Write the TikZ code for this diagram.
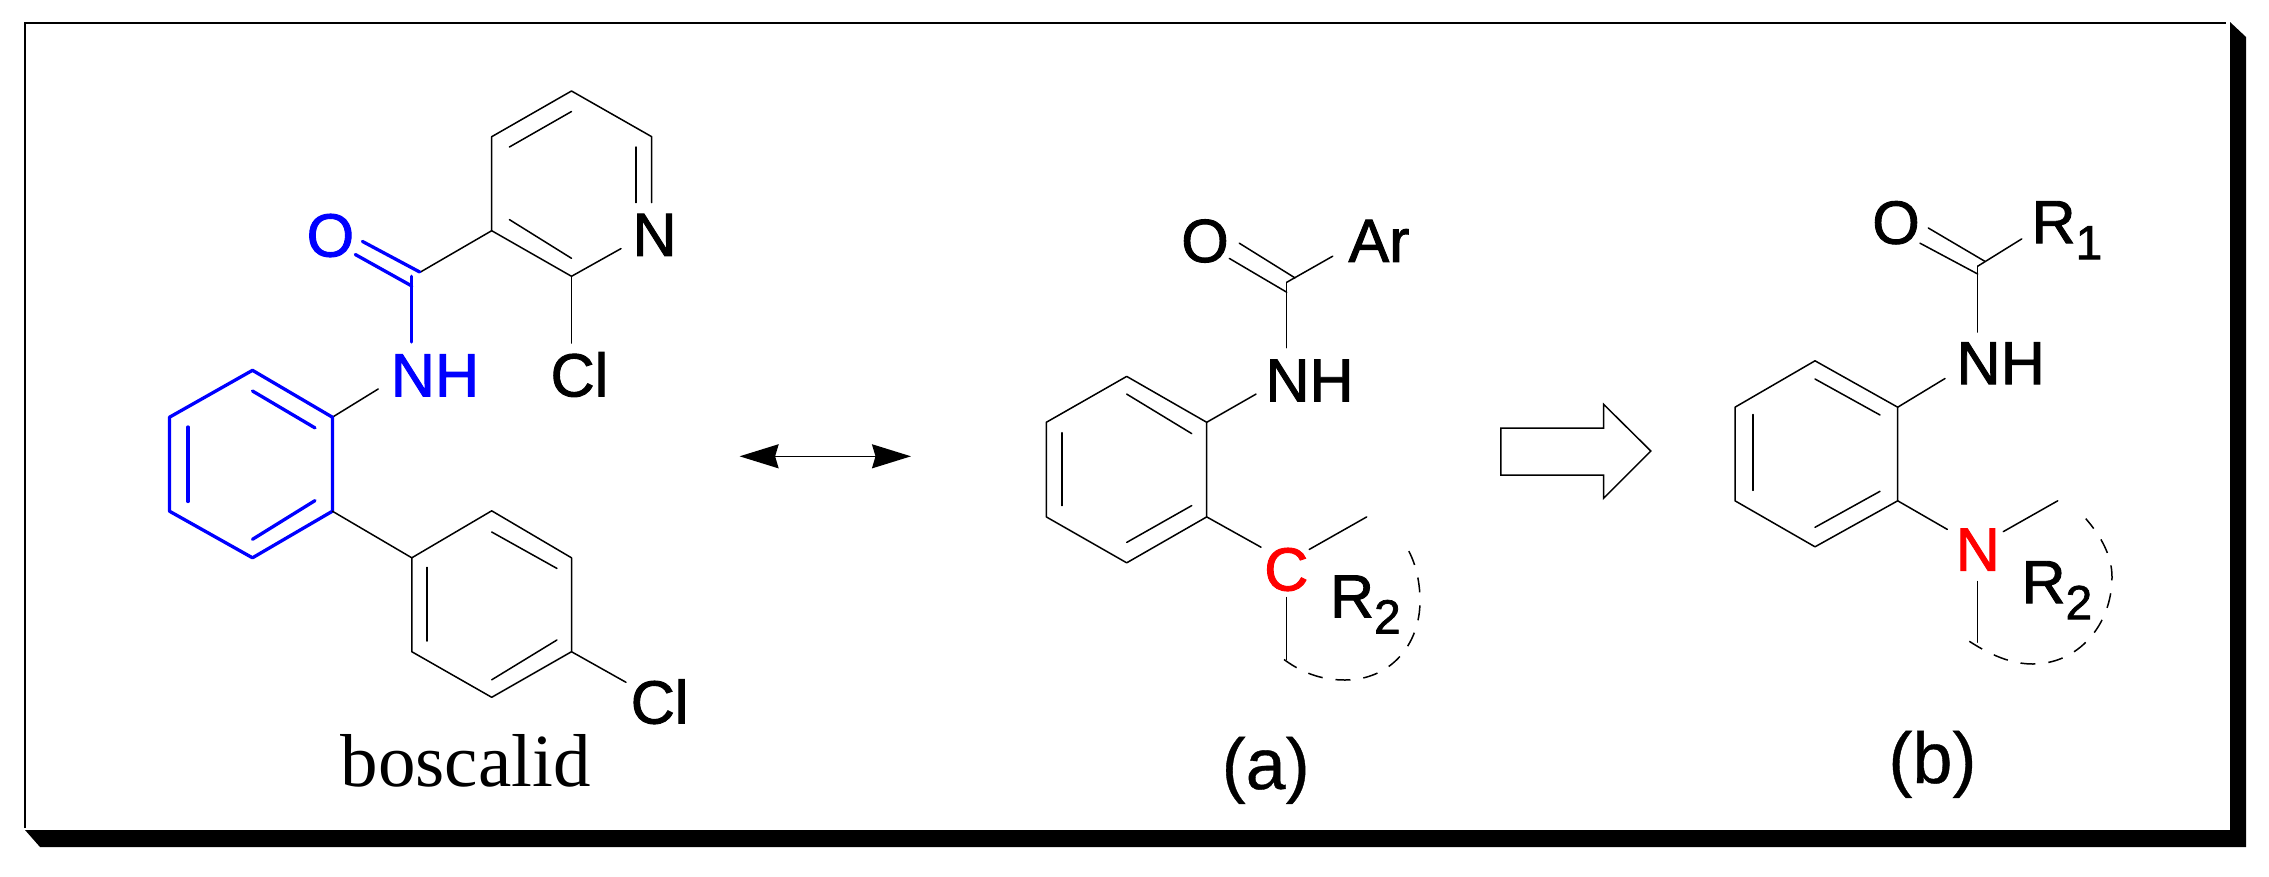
\documentclass[tikz,border=0pt]{standalone}
\usepackage{fontspec}
\setmainfont{Liberation Sans}
\newfontfamily\timesfam{Liberation Serif}
\newfontfamily\atomfam[FakeBold=1.5]{Liberation Sans}
\newfontfamily\capfam[FakeBold=0.5]{Liberation Sans}
\usetikzlibrary{arrows.meta}
\definecolor{pureblue}{HTML}{0000FF}
\definecolor{purered}{HTML}{FF0000}
\newcommand{\subR}[2]{R\raisebox{-16pt}{\fontsize{48}{48}\selectfont #1}}
\tikzset{
  bond/.style={line width=1.5pt,black,line cap=round,line join=round},
  bluebond/.style={line width=3.3pt,pureblue,line cap=round,line join=round},
  dashring/.style={line width=1.5pt,black,dash pattern=on 15pt off 13pt},
  atom/.style={inner sep=0pt,outer sep=0pt,anchor=base,font=\atomfam\fontsize{61}{61}\selectfont},
  caption/.style={inner sep=0pt,outer sep=0pt,anchor=base,font=\capfam\fontsize{72}{72}\selectfont},
  sublabel/.style={inner sep=0pt,outer sep=0pt,anchor=base west,font=\atomfam\fontsize{61}{61}\selectfont},
  frameline/.style={line width=1.8pt,black},
}
\begin{document}
\begin{tikzpicture}[x=1pt,y=-1pt]
\useasboundingbox (0,0) rectangle (2269,876);
\fill[white] (0,0) rectangle (2269,876);
% frame
\coordinate (fa) at (25,828); \coordinate (fb) at (25,23); \coordinate (fc) at (2226,23);
\draw[frameline] (fa) -- (fb) -- (fc);
\coordinate (s1) at (25,830); \coordinate (s2) at (2230,830); \coordinate (s3) at (2230,22);
\coordinate (s4) at (2246,37); \coordinate (s5) at (2246,847); \coordinate (s6) at (40,847);
\fill[black] (s1) -- (s2) -- (s3) -- (s4) -- (s5) -- (s6) -- cycle;

% ===== boscalid =====
% pyridine ring
\coordinate (p1) at (571.5,91); \coordinate (p2) at (491.7,136.7); \coordinate (p3) at (491.7,230.7);
\coordinate (p4) at (571.5,276.3); \coordinate (p5) at (621,248.6); \coordinate (p6) at (651.7,202.6);
\coordinate (p7) at (651.7,136.7);
\draw[bond] (p6) -- (p7) -- (p1) -- (p2) -- (p3) -- (p4) -- (p5);
\coordinate (pi1) at (636,147); \coordinate (pi2) at (636,202.6);
\coordinate (pi3) at (509.4,147); \coordinate (pi4) at (571.5,111.5);
\coordinate (pi5) at (509.4,219.6); \coordinate (pi6) at (571.5,258.3);
\draw[bond] (pi1) -- (pi2); \draw[bond] (pi3) -- (pi4); \draw[bond] (pi5) -- (pi6);
% Cl on pyridine
\coordinate (pc) at (571.5,343);
\draw[bond] (p4) -- (pc);
% amide
\coordinate (am) at (411.8,276.3); \coordinate (am2) at (420.5,272);
\draw[bond] (p3) -- (am2);
\coordinate (o1a) at (411.8,286); \coordinate (o1b) at (355.3,254.5);
\coordinate (o2a) at (419.7,272); \coordinate (o2b) at (362.4,241.4);
\coordinate (amn) at (411.8,342);
\draw[bluebond] (o1a) -- (o1b); \draw[bluebond] (o2a) -- (o2b); \draw[bluebond] (am) -- (amn);
% NH to phenyl
\coordinate (nh) at (378.2,389); \coordinate (b1) at (332.4,417.2);
\draw[bond] (nh) -- (b1);
% blue ring
\coordinate (b2) at (252.5,370.3); \coordinate (b3) at (169.5,417.2); \coordinate (b4) at (169.5,511.2);
\coordinate (b5) at (252.5,557.8); \coordinate (b6) at (332.4,511.2);
\draw[bluebond] (b1) -- (b2) -- (b3) -- (b4) -- (b5) -- (b6) -- cycle;
\coordinate (bi1) at (315,427.9); \coordinate (bi2) at (252.5,391);
\coordinate (bi3) at (188.1,427); \coordinate (bi4) at (188.1,501.5);
\coordinate (bi5) at (252.5,539.3); \coordinate (bi6) at (315,500.6);
\draw[bluebond] (bi1) -- (bi2); \draw[bluebond] (bi3) -- (bi4); \draw[bluebond] (bi5) -- (bi6);
% chlorophenyl
\coordinate (c1) at (411.8,557.8); \coordinate (c2) at (491.7,510.8); \coordinate (c3) at (571.5,557.8);
\coordinate (c4) at (571.5,651.7); \coordinate (c5) at (491.7,697.3); \coordinate (c6) at (411.8,651.7);
\draw[bond] (b6) -- (c1);
\draw[bond] (c1) -- (c2) -- (c3) -- (c4) -- (c5) -- (c6) -- cycle;
\coordinate (ci1) at (491.7,532); \coordinate (ci2) at (556.9,568.4);
\coordinate (ci3) at (427.2,567.4); \coordinate (ci4) at (427.2,641);
\coordinate (ci5) at (491.7,679.8); \coordinate (ci6) at (556.9,640);
\draw[bond] (ci1) -- (ci2); \draw[bond] (ci3) -- (ci4); \draw[bond] (ci5) -- (ci6);
\coordinate (cc) at (626,682.3);
\draw[bond] (c4) -- (cc);
% labels
\node[atom,text=pureblue] (O0) at (330.4,256.5) {O};
\node[atom] (N0) at (654.5,255.9) {N};
\node[atom] (Cl1) at (579.4,396.4) {Cl};
\node[atom,text=pureblue] (NH0) at (435,396.4) {NH};
\node[atom] (Cl2) at (659.6,723.5) {Cl};
\node[inner sep=0pt,anchor=base,font=\fontsize{75}{75}\selectfont\timesfam] (bos) at (465.6,786) {boscalid};

% ===== double arrow =====
\coordinate (da) at (739.6,456.3); \coordinate (db) at (911,456.3);
\draw[line width=1.5pt,{Stealth[length=39pt,width=24pt,inset=3.5pt]}-{Stealth[length=39pt,width=24pt,inset=3.5pt]}] (da) -- (db);

% ===== (a) =====
\coordinate (a1) at (1126.7,376.4); \coordinate (a2) at (1206.7,422.3); \coordinate (a3) at (1206.7,516.9);
\coordinate (a4) at (1126.7,562.8); \coordinate (a5) at (1046.3,516.9); \coordinate (a6) at (1046.3,422.3);
\draw[bond] (a1) -- (a2) -- (a3) -- (a4) -- (a5) -- (a6) -- cycle;
\coordinate (ai1) at (1126.7,394.1); \coordinate (ai2) at (1191.7,433.6);
\coordinate (ai3) at (1062,432.7); \coordinate (ai4) at (1062,505.6);
\coordinate (ai5) at (1126.7,542.4); \coordinate (ai6) at (1191.7,505.6);
\draw[bond] (ai1) -- (ai2); \draw[bond] (ai3) -- (ai4); \draw[bond] (ai5) -- (ai6);
\coordinate (an) at (1256,394.1); \draw[bond] (a2) -- (an);
\coordinate (ac) at (1286.7,282.3); \coordinate (acn) at (1286.7,347.7); \draw[bond] (ac) -- (acn);
\coordinate (ao1) at (1286.7,292.2); \coordinate (ao2) at (1229.3,258.4);
\coordinate (ao3) at (1295,277.9); \coordinate (ao4) at (1239.3,243.2);
\draw[bond] (ao1) -- (ao2); \draw[bond] (ao3) -- (ao4);
\coordinate (aar) at (1332.7,256.2); \draw[bond] (ac) -- (aar);
\coordinate (ax1) at (1261,547.2); \draw[bond] (a3) -- (ax1);
\coordinate (ax2) at (1309.3,549.4); \coordinate (ax3) at (1366.7,516.9); \draw[bond] (ax2) -- (ax3);
\coordinate (ax4) at (1286.7,597.5); \coordinate (ax5) at (1286.7,659.5); \draw[bond] (ax4) -- (ax5);
\coordinate (ad0) at (1284,659.5); \coordinate (ad1) at (1345,680); \coordinate (ad2) at (1420,601); \coordinate (ad3) at (1405,544.6);
\draw[dashring] (ad0) .. controls (1305,675) and (1325,680) .. (ad1) .. controls (1390,680) and (1420,645) .. (ad2) .. controls (1420,580) and (1415,560) .. (ad3);
\node[atom] (Oa) at (1205,262) {O};
\node[atom] (Ar) at (1379,261.9) {Ar};
\node[atom] (NHa) at (1309.5,401.5) {NH};
\node[atom,text=purered] (Ca) at (1286.3,590.5) {C};
\node[sublabel] (R2a) at (1330,617.5) {\subR{2}{}};
\node[caption] (capa) at (1265.7,789) {(a)};

% ===== open arrow =====
\coordinate (h1) at (1500.8,428); \coordinate (h2) at (1603.6,428); \coordinate (h3) at (1603.6,404.3);
\coordinate (h4) at (1650.8,451); \coordinate (h5) at (1603.6,498.3); \coordinate (h6) at (1603.6,475); \coordinate (h7) at (1500.8,475);
\draw[line width=1.5pt,line join=miter] (h1) -- (h2) -- (h3) -- (h4) -- (h5) -- (h6) -- (h7) -- cycle;

% ===== (b) =====
\coordinate (e1) at (1815,360.8); \coordinate (e2) at (1897.7,407.2); \coordinate (e3) at (1897.7,500.8);
\coordinate (e4) at (1815,546.8); \coordinate (e5) at (1735,500.8); \coordinate (e6) at (1735,407.2);
\draw[bond] (e1) -- (e2) -- (e3) -- (e4) -- (e5) -- (e6) -- cycle;
\coordinate (ei1) at (1815,379); \coordinate (ei2) at (1880,415);
\coordinate (ei3) at (1753,414.5); \coordinate (ei4) at (1753,490.4);
\coordinate (ei5) at (1815,527.3); \coordinate (ei6) at (1880,491.3);
\draw[bond] (ei1) -- (ei2); \draw[bond] (ei3) -- (ei4); \draw[bond] (ei5) -- (ei6);
\coordinate (en) at (1945,378.5); \draw[bond] (e2) -- (en);
\coordinate (ec) at (1977.7,266.2); \coordinate (ecn) at (1977.7,332.1); \draw[bond] (ec) -- (ecn);
\coordinate (eo1) at (1977.7,274); \coordinate (eo2) at (1920,243.2);
\coordinate (eo3) at (1985,261.4); \coordinate (eo4) at (1928.3,228);
\draw[bond] (eo1) -- (eo2); \draw[bond] (eo3) -- (eo4);
\coordinate (er) at (2021.7,238.9); \draw[bond] (ec) -- (er);
\coordinate (ex1) at (1947.3,529.4); \draw[bond] (e3) -- (ex1);
\coordinate (ex2) at (2003.3,531.6); \coordinate (ex3) at (2057.7,500.8); \draw[bond] (ex2) -- (ex3);
\coordinate (ex4) at (1977.7,581.5); \coordinate (ex5) at (1977.7,642.2); \draw[bond] (ex4) -- (ex5);
\coordinate (ed0) at (1969.3,641.3); \coordinate (ed1) at (2033,664); \coordinate (ed2) at (2112,577); \coordinate (ed3) at (2085.7,518.6);
\draw[dashring] (ed0) .. controls (1995,658) and (2015,664) .. (ed1) .. controls (2078,664) and (2112,625) .. (ed2) .. controls (2112,555) and (2100,535) .. (ed3);
\node[atom] (Ob) at (1896,243.7) {O};
\node[sublabel] (R1b) at (2031.5,243.2) {\subR{1}{}};
\node[atom] (NHb) at (2000.7,384.2) {NH};
\node[atom,text=purered] (Nb) at (1977.8,570.6) {N};
\node[sublabel] (R2b) at (2021.5,603.2) {\subR{2}{}};
\node[caption] (capb) at (1932.4,783) {(b)};
\end{tikzpicture}
\end{document}
